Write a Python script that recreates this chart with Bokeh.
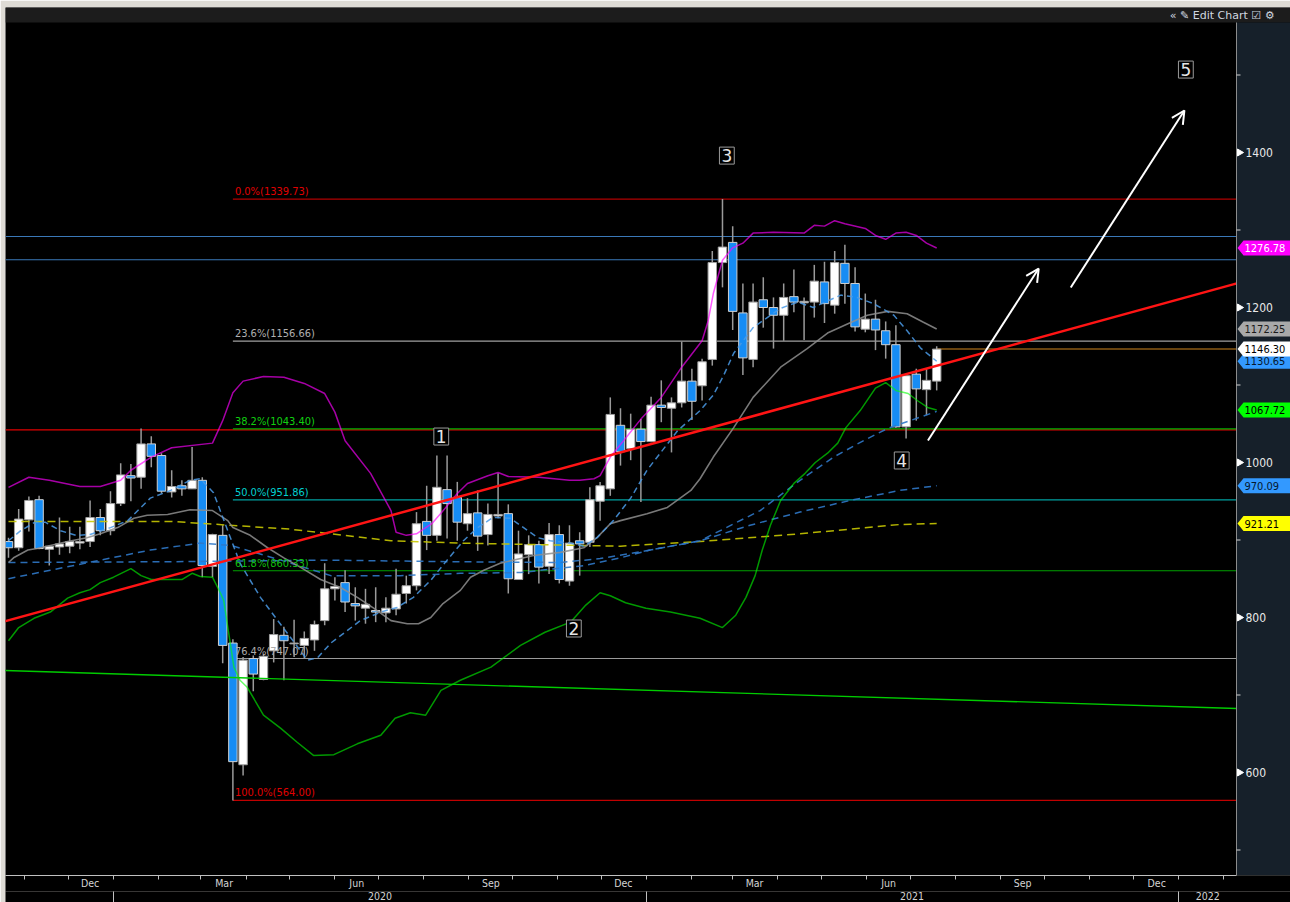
import numpy as np
import pandas as pd
from bokeh.plotting import figure
from bokeh.models import (ColumnDataSource, Range1d, LinearAxis, FixedTicker,
                          Label, Arrow, OpenHead, BoxAnnotation)
from bokeh.core.properties import value
from bokeh.embed import file_html
from bokeh.resources import INLINE

# ---------------------------------------------------------------- data
first_week = "2019-10-21"          # weekly candles, week start dates
opens = [898, 890, 926, 952, 888, 891, 892, 896, 898, 929,
         912, 947, 983, 981, 1024, 1009, 962, 970, 966, 977,
         866, 906, 767, 610, 747, 720, 757, 777, 766, 764,
         771, 796, 837, 845, 818, 812, 809, 806, 811, 831,
         841, 924, 906, 965, 955, 921, 935, 907, 931, 934,
         849, 881, 894, 866, 907, 847, 899, 897, 950, 966,
         1048, 1018, 1043, 1027, 1074, 1070, 1077, 1105, 1099, 1133,
         1258, 1284, 1193, 1133, 1210, 1200, 1190, 1214, 1206, 1207,
         1233, 1203, 1257, 1231, 1172, 1185, 1170, 1152, 1046, 1114,
         1094, 1105]
highs = [903, 940, 956, 957, 893, 929, 917, 917, 951, 940,
         963, 999, 998, 1044, 1034, 1012, 990, 977, 1020, 981,
         908, 919, 772, 749, 751, 753, 798, 788, 797, 782,
         796, 870, 852, 861, 839, 837, 839, 826, 863, 854,
         936, 970, 1009, 1009, 975, 954, 964, 947, 986, 946,
         912, 906, 899, 922, 919, 919, 910, 968, 975, 1084,
         1070, 1063, 1056, 1085, 1106, 1084, 1156, 1121, 1134, 1273,
         1340, 1305, 1231, 1231, 1239, 1213, 1231, 1249, 1213, 1255,
         1259, 1273, 1281, 1252, 1218, 1210, 1182, 1177, 1112, 1121,
         1121, 1150]
lows = [877, 886, 911, 888, 867, 881, 883, 888, 891, 906,
        906, 944, 950, 966, 994, 960, 955, 957, 966, 852,
        852, 741, 564, 596, 705, 719, 742, 719, 749, 747,
        757, 790, 822, 807, 796, 792, 794, 794, 803, 818,
        835, 887, 899, 902, 899, 912, 886, 893, 928, 831,
        849, 856, 844, 856, 844, 841, 854, 891, 925, 957,
        996, 1003, 949, 1026, 1052, 1013, 1071, 1055, 1080, 1125,
        1226, 1171, 1113, 1123, 1174, 1147, 1157, 1194, 1158, 1187,
        1180, 1192, 1205, 1169, 1168, 1145, 1134, 1045, 1031, 1054,
        1061, 1093]
closes = [890, 927, 951, 889, 892, 895, 898, 898, 929, 912,
          947, 984, 980, 1024, 1008, 963, 969, 966, 977, 867,
          907, 764, 614, 745, 727, 750, 778, 770, 767, 773,
          791, 837, 840, 820, 815, 817, 807, 812, 830, 841,
          921, 906, 968, 947, 923, 934, 905, 933, 933, 850,
          882, 894, 865, 907, 849, 896, 895, 952, 970, 1062,
          1014, 1043, 1027, 1074, 1071, 1077, 1105, 1079, 1130, 1258,
          1278, 1195, 1135, 1207, 1200, 1190, 1213, 1207, 1208, 1234,
          1205, 1258, 1231, 1175, 1185, 1171, 1152, 1046, 1112, 1095,
          1106, 1146.30]

# indicator lines: (week index, value)
bb_upper_w = [0, 2, 4, 7, 9, 11, 12, 14, 16, 20, 21, 22, 23, 25, 27, 29, 31, 32, 33, 35.5,
              37.5, 38, 39, 40, 41.5, 42.5, 44, 45, 47, 48, 49, 52, 55, 56, 57.4, 58, 59, 60.3,
              62, 64, 66, 68, 68.6, 69.1, 70, 71, 72, 73, 75, 78, 79, 80, 81, 82, 84, 85, 86,
              87, 88, 89, 90, 91]
bb_upper_v = [968, 981, 977, 969, 969, 977, 990, 1007, 1019, 1025, 1054, 1090, 1105, 1111, 1110,
              1102, 1089, 1065, 1028, 986, 938, 910, 906, 908, 921, 936, 960, 973, 983, 987, 982,
              981, 977, 977, 979, 983, 1007, 1028, 1056, 1084, 1123, 1157, 1183, 1218, 1261,
              1277, 1283, 1296, 1297, 1296, 1306, 1305, 1312, 1308, 1302, 1293, 1288, 1296, 1297,
              1293, 1283, 1276.78]
bb_lower_w = [0, 1, 2.5, 4.1, 5.8, 7, 8, 9, 10.3, 12, 13, 14, 17, 18, 18.8, 20, 20.8, 21.1, 21.6,
              22.1, 22.7, 23.4, 25, 26.7, 28.3, 29.9, 31.9, 34.2, 36.5, 37.9, 39.4, 40.9, 42.4,
              44.3, 47.3, 50.2, 52.6, 55.1, 56.6, 58, 59, 60.5, 62.5, 64.9, 67.8, 70, 71.3, 72.3,
              73.2, 73.9, 74.7, 75.7, 77, 78.1, 79.1, 80.3, 81.3, 82.1, 83.5, 85, 86, 87, 88.2,
              89.1, 90.1, 91]
bb_lower_v = [770, 787, 799, 807, 825, 832, 836, 845, 852, 863, 854, 849, 849, 857, 853, 852, 831,
              822, 779, 736, 719, 710, 674, 657, 639, 622, 623, 637, 648, 670, 677, 674, 706, 719,
              736, 764, 781, 794, 816, 832, 828, 819, 812, 807, 799, 787, 803, 826, 854, 887, 919,
              951, 973, 986, 1000, 1012, 1025, 1045, 1067, 1096, 1103, 1093, 1089, 1080, 1071,
              1067.72]
sma_w = [0, 0.5, 1.9, 2.8, 4.1, 5.8, 7.7, 9, 10.7, 12.3, 13.6, 15.6, 17.8, 20, 21.5, 22, 23.7,
         25.4, 27, 28.6, 30.6, 32.5, 34.2, 35.8, 37.5, 39.1, 40.2, 41.4, 42.6, 44.3, 45.3, 46.6,
         48.2, 51.5, 54.1, 56.4, 57.7, 59, 60, 62.6, 64.6, 66.9, 67.8, 69.1, 71.1, 73, 75.7,
         78.3, 80.3, 82.3, 84.2, 86.2, 88.1, 89.7, 91]
sma_v = [871, 877, 887, 889, 893, 898, 903, 908, 916, 928, 932, 933, 939, 938, 925, 916, 906,
         890, 877, 865, 849, 839, 826, 812, 796, 792, 792, 800, 818, 835, 852, 861, 870, 880,
         884, 890, 903, 921, 925, 934, 942, 964, 979, 1007, 1045, 1084, 1123, 1147, 1167, 1179,
         1190, 1195, 1192, 1181, 1172.25]
fast_w = [0, 1.2, 2.6, 3.6, 5.1, 6.6, 8, 10, 11.7, 13.9, 15.9, 17.8, 18.8, 20.1, 21.5, 22.7,
          24.7, 26.4, 27.9, 29.3, 30.3, 31.6, 33.2, 34.5, 36.5, 38.1, 39.7, 41.4, 43, 44.6, 46,
          47.5, 49.2, 50.5, 51.9, 53.1, 55.1, 56.4, 57.7, 59.3, 61, 62.6, 65.6, 67.8, 69.1, 70.1,
          71.1, 73, 75.7, 77.4, 78.9, 81.6, 83.2, 84.8, 86.8, 88.1, 89.4, 91]
fast_v = [899, 912, 923, 923, 912, 906, 907, 916, 925, 954, 964, 977, 979, 961, 912, 870, 826,
          796, 770, 745, 748, 767, 783, 796, 807, 813, 826, 848, 874, 899, 916, 929, 928, 916,
          903, 899, 896, 892, 903, 925, 954, 990, 1041, 1067, 1087, 1112, 1141, 1174, 1199, 1207,
          1200, 1216, 1213, 1205, 1190, 1170, 1148, 1130.65]
mid_w = [0, 4.1, 9, 13.9, 18.8, 21.8, 26.7, 31.6, 38.4, 44.3, 50.2, 56.4, 60, 62.9, 67.8, 73.7,
         77.6, 80.9, 83.8, 86.2, 88.4, 91]
mid_v = [850, 861, 874, 887, 896, 893, 874, 854, 854, 857, 858, 867, 877, 887, 899, 938, 977,
         1007, 1028, 1044, 1054, 1066]
slow_w = [0, 15.9, 31.6, 43.3, 54.1, 58, 62.9, 67.8, 72.7, 77.6, 82.5, 87.4, 91]
slow_v = [871, 872, 874, 872, 871, 876, 887, 899, 919, 936, 951, 964, 970.09]
long_w = [0, 15.9, 27.6, 37.5, 44.3, 60, 67.8, 77.6, 87.4, 91]
long_v = [924, 924, 914, 899, 896, 892, 898, 908, 920, 921.21]

# Fibonacci retracement
fib_pct = ["0.0%", "23.6%", "38.2%", "50.0%", "61.8%", "76.4%", "100.0%"]
fib_val = [1339.73, 1156.66, 1043.40, 951.86, 860.33, 747.07, 564.00]
fib_start = "2020-03-23"

hline_vals = [1291.6, 1261.6]
support_val = 1042.2
trend_dates = ["2019-10-17", "2022-02-10"]
trend_red_vals = [794.3, 1231.1]
trend_green_vals = [731.7, 682.6]

arrow_start = [("2021-07-13", 1028.4), ("2021-10-19", 1225.8)]
arrow_end = [("2021-09-27", 1250.3), ("2022-01-05", 1454.2)]

wave_text = ["1", "2", "3", "4", "5"]
wave_dates = ["2020-08-13", "2020-11-12", "2021-02-25", "2021-06-25", "2022-01-06"]
wave_vals = [1033.5, 785.8, 1396.0, 1002.6, 1507.0]

y_ticks = [600, 800, 1000, 1200, 1400]
y_tick_labels = ["600", "800", "1000", "1200", "1400"]
y_minor = [500, 700, 900, 1100, 1300, 1500]

tag_vals = [1276.78, 1172.25, 1130.65, 1146.30, 1067.72, 970.09, 921.21]
tag_fill = ["#ff00ff", "#a9a9a9", "#3399ff", "#ffffff", "#00ff00", "#3399ff", "#ffff00"]
tag_text_col = ["#ffffff", "#1a1a1a", "#06182e", "#000000", "#000000", "#06182e", "#000000"]

month_labels = ["Dec", "Mar", "Jun", "Sep", "Dec", "Mar", "Jun", "Sep", "Dec"]
month_label_months = ["2019-12", "2020-03", "2020-06", "2020-09", "2020-12",
                      "2021-03", "2021-06", "2021-09", "2021-12"]
year_labels = ["2020", "2021", "2022"]

# ---------------------------------------------------------------- geometry
EPOCH = pd.Timestamp("2020-01-01")


def day(s):
    return (pd.Timestamp(s) - EPOCH) / pd.Timedelta(days=1)


W, H = 1290, 902
LEFT_PX, TOP_PX, BOTTOM_PX = 5, 7, 27
STRIP_PX = 54
HEADER_PX = 15
PX_PER_DAY = 10.2 / 7
PX_PER_UNIT = 0.775
ORIGIN_PX = 112.9                      # page x of 2020-01-01
X0 = (LEFT_PX - ORIGIN_PX) / PX_PER_DAY
X1 = (W - ORIGIN_PX) / PX_PER_DAY
XS = (W - STRIP_PX - ORIGIN_PX) / PX_PER_DAY
Y1 = 1000 + (462 - TOP_PX) / PX_PER_UNIT          # value at frame top
Y0 = Y1 - (H - TOP_PX - BOTTOM_PX) / PX_PER_UNIT
YH = Y1 - HEADER_PX / PX_PER_UNIT
DPX = 1 / PX_PER_DAY
VPX = 1 / PX_PER_UNIT

FONT = "DejaVu Sans Condensed"

dates = pd.date_range(first_week, periods=len(closes), freq="7D")
cx = [float((d - EPOCH) / pd.Timedelta(days=1)) for d in dates]
X_FIRST = cx[0]


def wx(ws):
    return [X_FIRST + 7 * w for w in ws]


up = [c >= o for o, c in zip(opens, closes)]
src = ColumnDataSource(dict(
    x=cx, high=highs, low=lows,
    top=[max(o, c) for o, c in zip(opens, closes)],
    bottom=[min(o, c) for o, c in zip(opens, closes)],
    fill=["#ffffff" if u else "#168cf4" for u in up],
    edge=["#a0a0a0" if u else "#d0d0d0" for u in up],
))

p = figure(width=W, height=H, x_range=Range1d(X0, X1), y_range=Range1d(Y0, Y1),
           output_backend="svg", toolbar_location=None,
           x_axis_location=None, y_axis_location=None,
           background_fill_color="black", border_fill_color="#dedbd5",
           outline_line_color=None, min_border_left=LEFT_PX, min_border_right=0,
           min_border_top=TOP_PX, min_border_bottom=BOTTOM_PX)
p.grid.visible = False

# header bar and right price strip
p.add_layout(BoxAnnotation(bottom=YH, fill_color="#1c1c1c", fill_alpha=1,
                           line_color=None, level="underlay"))
p.add_layout(BoxAnnotation(left=XS, top=YH, fill_color="#16202a", fill_alpha=1,
                           line_color=None, level="underlay"))

# x axes (months, years)
month_starts = [float(day(d)) for d in pd.date_range("2019-11-01", "2022-02-01", freq="MS")]
month_mid = []
for m in month_label_months:
    s = pd.Timestamp(m + "-01")
    e = s + pd.offsets.MonthBegin(1)
    month_mid.append(int(round((day(s) + day(e)) / 2)))
year_starts = [float(day(y + "-01-01")) for y in year_labels]
year_ends = year_starts[1:] + [XS]
year_mid = [int(round((a + min(b, XS)) / 2)) for a, b in zip(year_starts, year_ends)]

ax1 = LinearAxis(ticker=FixedTicker(ticks=month_mid, minor_ticks=month_starts),
                 major_label_overrides={k: v for k, v in zip(month_mid, month_labels)},
                 bounds=(X0, XS))
ax2 = LinearAxis(ticker=FixedTicker(ticks=year_mid, minor_ticks=year_starts),
                 major_label_overrides={k: v for k, v in zip(year_mid, year_labels)},
                 bounds=(X0, XS))
for ax in (ax1, ax2):
    ax.major_tick_line_color = None
    ax.major_tick_out = 0
    ax.major_tick_in = 0
    ax.minor_tick_in = 0
    ax.minor_tick_line_color = "#c0c0c0"
    ax.major_label_text_color = "#d4d4d4"
    ax.major_label_text_font = FONT
    ax.major_label_text_font_size = "10.5px"
    try:
        ax.background_fill_color = "black"
    except Exception:
        pass
ax1.axis_line_color = "#c0c0c0"
ax1.minor_tick_out = 4
ax1.major_label_standoff = -3
ax2.axis_line_color = None
ax2.minor_tick_out = 12
ax2.major_label_standoff = -12
p.add_layout(ax1, "below")
p.add_layout(ax2, "below")

# horizontal levels (under candles)
for v in hline_vals:
    p.segment(x0=[X0], y0=[v], x1=[XS], y1=[v], line_color="#3a78b8", line_width=1.2)
p.segment(x0=[X0], y0=[support_val], x1=[XS], y1=[support_val], line_color="#e00000", line_width=1.2)
fib_line_colors = ["#b00000", "#a0a0a0", "#00b000", "#00a0a0", "#00a000", "#9a9a9a", "#c00000"]
fib_text_colors = ["#e00000", "#b0b0b0", "#10d010", "#00d0d0", "#10c010", "#acacac", "#e00000"]
fx = day(fib_start)
p.segment(x0=[fx] * len(fib_val), y0=fib_val, x1=[XS] * len(fib_val), y1=fib_val,
          line_color=fib_line_colors, line_width=1.2)
p.segment(x0=[cx[-1]], y0=[closes[-1]], x1=[XS], y1=[closes[-1]], line_color="#8b5a14", line_width=1.5)

# candles
p.segment(x0="x", y0="high", x1="x", y1="low", source=src, line_color="#9a9a9a", line_width=1.5)
p.vbar(x="x", width=5.8, top="top", bottom="bottom", source=src,
       fill_color="fill", line_color="edge", line_width=1)

# indicators
p.line(wx(long_w), long_v, line_color="#c8c800", line_width=1.5, line_dash="8 5", line_alpha=0.9)
p.line(wx(slow_w), slow_v, line_color="#2f78c8", line_width=1.5, line_dash="7 5", line_alpha=0.9)
p.line(wx(mid_w), mid_v, line_color="#2f78c8", line_width=1.5, line_dash="7 5", line_alpha=0.9)
p.line(wx(sma_w), sma_v, line_color="#8e8e8e", line_width=1.6, line_alpha=0.85)
p.line(wx(fast_w), fast_v, line_color="#4a9ae6", line_width=1.5, line_dash="6 4", line_alpha=0.85)
p.line(wx(bb_upper_w), bb_upper_v, line_color="#ff00ff", line_width=1.5, line_alpha=0.65)
p.line(wx(bb_lower_w), bb_lower_v, line_color="#00ff00", line_width=1.5, line_alpha=0.6)

# trend lines
td = [day(d) for d in trend_dates]
p.line(td, trend_green_vals, line_color="#00cc00", line_width=1.3)
p.line(td, trend_red_vals, line_color="#ff1414", line_width=2.5)

# fib labels
p.text(x=[fx] * len(fib_val), y=fib_val,
       text=[f"{a}({b:.2f})" for a, b in zip(fib_pct, fib_val)],
       text_color=fib_text_colors, text_font=value(FONT), text_font_size="11px",
       text_baseline="bottom", x_offset=2, y_offset=-1)

# arrows
for (sd, sv), (ed, ev) in zip(arrow_start, arrow_end):
    p.add_layout(Arrow(end=OpenHead(size=13, line_color="white", line_width=2),
                       x_start=day(sd), y_start=sv, x_end=day(ed), y_end=ev,
                       line_color="white", line_width=2))

# Elliott wave counts
for t, d, v in zip(wave_text, wave_dates, wave_vals):
    lab = Label(x=day(d), y=v, text=t, text_color="#e6e6e6", text_font="DejaVu Sans",
                text_font_size="17px", text_align="center", text_baseline="middle",
                border_line_color="#9a9a9a", border_line_width=1,
                background_fill_color="black", background_fill_alpha=1)
    try:
        lab.padding = 2
    except Exception:
        pass
    p.add_layout(lab)

# right price scale
p.segment(x0=[XS], y0=[Y0], x1=[XS], y1=[YH], line_color="#8c8c8c", line_width=1)
p.segment(x0=[XS] * len(y_minor), y0=y_minor, x1=[XS + 4 * DPX] * len(y_minor), y1=y_minor,
          line_color="#d0d0d0", line_width=1)
p.scatter(x=[XS + 3 * DPX] * len(y_ticks), y=y_ticks, marker="triangle", size=7,
          angle=-np.pi / 2, fill_color="white", line_color="white")
p.text(x=[XS] * len(y_ticks), y=y_ticks, text=y_tick_labels, text_color="#e8e8e8",
       text_font=value(FONT), text_font_size="12px", text_baseline="middle", x_offset=9)

tag_xs, tag_ys = [], []
for v in tag_vals:
    tag_xs.append([XS + 1 * DPX, XS + 7 * DPX, X1, X1, XS + 7 * DPX])
    tag_ys.append([v, v + 7.5 * VPX, v + 7.5 * VPX, v - 7.5 * VPX, v - 7.5 * VPX])
p.patches(xs=tag_xs, ys=tag_ys, fill_color=tag_fill, line_color=None)
p.text(x=[XS] * len(tag_vals), y=tag_vals, text=[f"{v:.2f}" for v in tag_vals],
       text_color=tag_text_col, text_font=value(FONT), text_font_size="11px",
       text_baseline="middle", x_offset=8)

# header text
p.text(x=[X1], y=[(YH + Y1) / 2], text=["«  ✎ Edit Chart   ☑  ⚙"], text_color="#d0d8e0",
       text_font=value("DejaVu Sans"), text_font_size="11px", text_align="right",
       text_baseline="middle", x_offset=-2)

open("out.html", "w").write(file_html(p, INLINE))
